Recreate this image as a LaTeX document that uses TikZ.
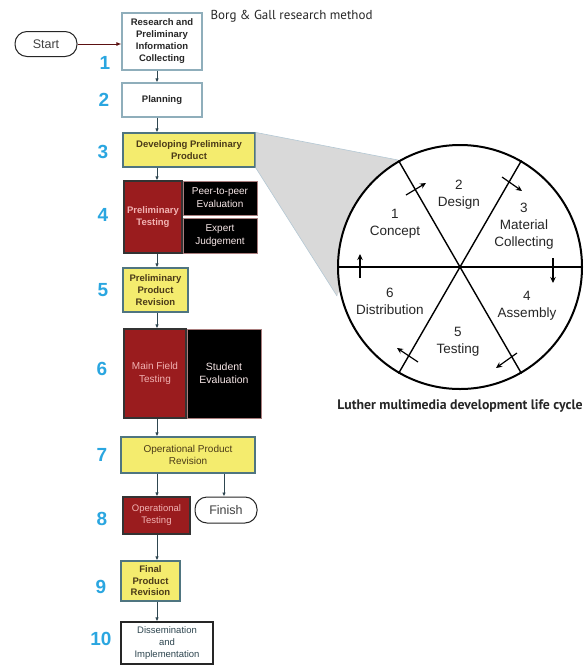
\documentclass[tikz,border=0pt]{standalone}
\usepackage{fontspec}
\setmainfont{Liberation Sans}
\newfontfamily\capfont{PT Sans}
\usetikzlibrary{arrows.meta}
\definecolor{ybox}{HTML}{F4EC6E}
\definecolor{rbox}{HTML}{9A1C1E}
\definecolor{bord}{HTML}{4F7580}
\definecolor{lbord}{HTML}{8FAEBB}
\definecolor{numc}{HTML}{2AA6E0}
\definecolor{ytext}{HTML}{4A3A18}
\definecolor{rtext}{HTML}{F2B3B3}
\definecolor{btext}{HTML}{F6E6E6}
\definecolor{arr}{HTML}{2E4650}
\definecolor{wedge}{HTML}{D9D9D9}
\definecolor{wedgeline}{HTML}{B4C8D4}
\tikzset{
  base/.style={draw, line width=1.2pt, align=center, inner sep=1pt},
  whitebox/.style={base, draw=lbord, fill=white, text=black!85, font=\fontsize{9.5}{12}\selectfont\bfseries},
  ybx/.style={base, draw=bord, fill=ybox, text=ytext, font=\fontsize{9.5}{12}\selectfont\bfseries},
  rbx/.style={base, draw=black!80, fill=rbox, text=rtext, font=\fontsize{9.5}{12.5}\selectfont\bfseries},
  bbx/.style={base, draw=rtext!70!black, line width=0.6pt, fill=black, text=btext, font=\fontsize{10}{13}\selectfont},
  pill/.style={draw=black!85, line width=1pt, rounded corners=12pt, fill=white, font=\fontsize{12.5}{14}\selectfont, text=black!75},
  num/.style={text=numc, font=\fontsize{19}{19}\selectfont\bfseries},
  flow/.style={arr, line width=0.9pt, -{Latex[length=4pt,width=3.5pt]}},
  ctext/.style={align=center, font=\fontsize{13.5}{17}\selectfont, text=black!85},
  carr/.style={line width=1.2pt, -{Stealth[length=6pt,width=5.5pt]}}
}
\begin{document}
\begin{tikzpicture}[x=1pt,y=-1pt]
\useasboundingbox (0,0) rectangle (588,665);
\coordinate (ax) at (157,0);
\coordinate (fx) at (224,0);

% gray wedge
\coordinate (w1) at (398,160);
\coordinate (w2) at (337,296);

% flowchart boxes
\node[pill, minimum width=62pt, minimum height=25pt] (start) at (46,44) {Start};
\node[whitebox, minimum width=80pt, minimum height=57pt] (b1) at (162,41.5) {Research and\\Preliminary\\Information\\Collecting};
\node[whitebox, minimum width=80pt, minimum height=34pt] (b2) at (162,100) {Planning};
\node[ybx, minimum width=132pt, minimum height=34pt] (b3) at (189,150) {Developing Preliminary\\Product};
\node[rbx, minimum width=58pt, minimum height=72pt] (b4a) at (153,217) {Preliminary\\Testing};
\node[bbx, minimum width=74pt, minimum height=34pt] (b4b) at (220,198) {Peer-to-peer\\Evaluation};
\node[bbx, minimum width=74pt, minimum height=35pt] (b4c) at (220,235.5) {Expert\\Judgement};
\node[ybx, minimum width=65pt, minimum height=44pt] (b5) at (155.5,290) {Preliminary\\Product\\Revision};
\node[rbx, minimum width=62pt, minimum height=89pt, font=\fontsize{10}{13}\selectfont] (b6a) at (155,373.5) {Main Field\\Testing};
\node[bbx, minimum width=74pt, minimum height=89pt, font=\fontsize{10.5}{13}\selectfont] (b6b) at (224,373.5) {Student\\Evaluation};
\node[ybx, minimum width=134pt, minimum height=36pt, font=\fontsize{10}{12.5}\selectfont] (b7) at (188,455) {Operational Product\\Revision};
\node[rbx, minimum width=67pt, minimum height=37pt, font=\fontsize{9.5}{12}\selectfont] (b8) at (156.5,515.5) {Operational\\Testing};
\node[pill, minimum width=62pt, minimum height=26pt] (finish) at (226,510) {Finish};
\node[ybx, minimum width=59pt, minimum height=40pt, font=\fontsize{9.5}{11.5}\selectfont\bfseries] (b9) at (150.5,581) {Final\\Product\\Revision};
\node[whitebox, draw=black!85, text=arr, minimum width=92pt, minimum height=42pt, font=\fontsize{9.5}{12}\selectfont] (b10) at (167,643) {Dissemination\\and\\Implementation};

% numbers
\node[num] (n1) at (105,63) {1};
\node[num] (n2) at (104,100) {2};
\node[num] (n3) at (103,152) {3};
\node[num] (n4) at (103,215) {4};
\node[num] (n5) at (103,290) {5};
\node[num] (n6) at (102,369) {6};
\node[num] (n7) at (102,455) {7};
\node[num] (n8) at (102,519) {8};
\node[num] (n9) at (101,587) {9};
\node[num] (n10) at (101,639) {10};

% title
\node[font=\capfont\fontsize{13}{14}\selectfont, text=black!85, anchor=west] (title) at (207,16) {Borg \& Gall research method};

% connectors
\draw[line width=0.9pt, draw=rbox!60!black, -{Latex[length=5pt,width=4pt]}] (start.east) -- (b1.west |- start.east);
\draw[flow] (b1.south -| ax) -- (b2.north -| ax);
\draw[flow] (b2.south -| ax) -- (b3.north -| ax);
\draw[flow] (b3.south -| ax) -- (b4a.north -| ax);
\draw[flow] (b4a.south -| ax) -- (b5.north -| ax);
\draw[flow] (b5.south -| ax) -- (b6a.north -| ax);
\draw[flow] (b6a.south -| ax) -- (b7.north -| ax);
\draw[flow] (b7.south -| ax) -- (b8.north -| ax);
\draw[flow] (b7.south -| fx) -- (finish.north -| fx);
\draw[flow] (b8.south -| ax) -- (b9.north -| ax);
\draw[flow] (b9.south -| ax) -- (b10.north -| ax);

% wedge and circle
\fill[wedge] (b3.north east) -- (w1) -- (w2) -- (b3.south east) -- cycle;
\draw[wedgeline, line width=0.6pt] (b3.north east) -- (w1);
\draw[wedgeline, line width=0.6pt] (b3.south east) -- (w2);
\node[circle, draw=black, line width=2pt, fill=white, minimum size=244pt, inner sep=0pt] (circ) at (460,267) {};
\draw[line width=1.4pt] (circ.180) -- (circ.0);
\draw[line width=1.4pt] (circ.60) -- (circ.240);
\draw[line width=1.4pt] (circ.120) -- (circ.300);

\node[ctext] (c1) at (395,224) {1\\Concept};
\node[ctext] (c2) at (459,195) {2\\Design};
\node[ctext, font=\fontsize{13.5}{17}\selectfont] (c3) at (524,226) {3\\Material\\Collecting};
\node[ctext] (c4) at (527,306) {4\\Assembly};
\node[ctext] (c5) at (458,342) {5\\Testing};
\node[ctext] (c6) at (390,301) {6\\Distribution};

\coordinate (a1s) at (406,195); \coordinate (a1e) at (426,183);
\coordinate (a2s) at (502,177); \coordinate (a2e) at (522,191);
\coordinate (a3s) at (553,258); \coordinate (a3e) at (553,283);
\coordinate (a4s) at (517,353); \coordinate (a4e) at (496,368);
\coordinate (a5s) at (418,362); \coordinate (a5e) at (397,348);
\coordinate (a6s) at (360,278); \coordinate (a6e) at (360,254);
\draw[carr] (a1s) -- (a1e);
\draw[carr] (a2s) -- (a2e);
\draw[carr] (a3s) -- (a3e);
\draw[carr] (a4s) -- (a4e);
\draw[carr] (a5s) -- (a5e);
\draw[carr] (a6s) -- (a6e);

\node[font=\capfont\bfseries\fontsize{13.8}{15}\selectfont, text=black!85] (caption) at (460,406) {Luther multimedia development life cycle};
\end{tikzpicture}
\end{document}
